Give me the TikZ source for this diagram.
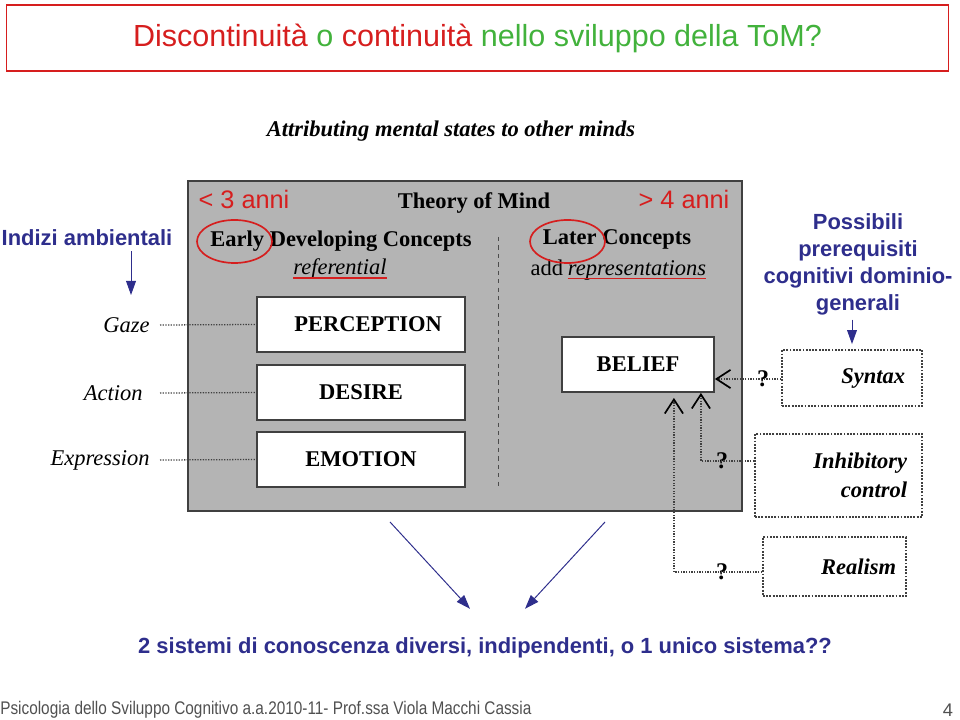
\documentclass[tikz,border=0pt]{standalone}
\usepackage{fontspec}
\setmainfont{Liberation Serif}
\setsansfont{Liberation Sans}
\usepackage{tikz}
\usetikzlibrary{arrows.meta,shapes,positioning}
\definecolor{tomred}{RGB}{214,30,30}
\definecolor{tomgreen}{RGB}{66,178,60}
\definecolor{tomblue}{RGB}{46,46,140}
\definecolor{tomgray}{RGB}{180,180,180}
\definecolor{tomframe}{RGB}{64,64,64}
\definecolor{footgray}{RGB}{80,80,80}
\tikzstyle{concept} = [rectangle, minimum width=5.2cm, minimum height=1.375cm, text centered, draw=tomframe, fill=white, line width=1.3pt, font=\fontsize{16}{18}\selectfont\bfseries]
\tikzstyle{cue} = [anchor=east, inner sep=0pt, inner xsep=0.25cm, font=\fontsize{16}{18}\selectfont\itshape]
\tikzstyle{prereq} = [rectangle, draw=tomframe, line width=1.3pt, densely dotted, align=right, font=\fontsize{16}{21}\selectfont\bfseries\itshape]
\tikzstyle{query} = [inner sep=0pt, font=\fontsize{17}{18}\selectfont\bfseries]
\tikzstyle{link} = [densely dotted, line width=0.9pt, color=tomframe]
\tikzstyle{barb} = [-{Straight Barb[length=10pt,width=13pt,line width=1.2pt,color=black]}]
\tikzstyle{bluetext} = [color=tomblue, align=center, font=\sffamily\bfseries\fontsize{15.6}{19.2}\selectfont]
\tikzstyle{bluearrow} = [color=tomblue, line width=0.7pt, -{Triangle[length=10pt,width=7pt]}]
\tikzstyle{age} = [color=tomred, font=\sffamily\fontsize{18}{20}\selectfont]
\tikzstyle{ring} = [ellipse, draw=tomred, line width=1.2pt, minimum width=1.875cm, minimum height=1.075cm]
\tikzstyle{redline} = [draw=tomred, line width=1.1pt]

\begin{document}
\begin{tikzpicture}[x=0.025cm, y=-0.025cm]
\useasboundingbox (0,0) rectangle (960,720);

% Title
\node (titlebox) [rectangle, draw=tomred, line width=0.8pt, minimum width=23.525cm, minimum height=1.65cm] at (477.5,38) {};
\node (title) at (477.5,38) [font=\sffamily\fontsize{21.7}{24}\selectfont] {\textcolor{tomred}{Discontinuità} \textcolor{tomgreen}{o} \textcolor{tomred}{continuità} \textcolor{tomgreen}{nello sviluppo della ToM?}};

\node (attrib) at (451,131) [font=\fontsize{16}{18}\selectfont\bfseries\itshape] {Attributing mental states to other minds};

% Theory of mind panel
\node (tom) [rectangle, draw=tomframe, fill=tomgray, line width=1.3pt, minimum width=13.85cm, minimum height=8.25cm] at (465,346) {};
\node (young) [age] at (244,199) {< 3 anni};
\node (old) [age] at (684,199) {> 4 anni};
\node (tomhead) at (474,203) [font=\fontsize{16}{18}\selectfont\bfseries] {Theory of Mind};
\node (early) at (341,241) [font=\fontsize{16}{18}\selectfont\bfseries] {Early Developing Concepts};
\node (refer) at (340,269) [inner sep=0pt, font=\fontsize{16}{18}\selectfont\itshape] {referential};
\node (later) at (617,239) [font=\fontsize{16}{18}\selectfont\bfseries] {Later Concepts};
\node (reprword) at (637,270) [inner sep=0pt, font=\fontsize{16}{18}\selectfont\itshape] {representations};
\node (add) [anchor=base east, inner sep=0pt, xshift=-3pt, font=\fontsize{16}{18}\selectfont] at (reprword.base west) {add};
\draw[redline] ([yshift=-2.5pt]refer.base west) -- ([yshift=-2.5pt]refer.base east);
\draw[redline] ([yshift=-2.5pt]reprword.base west) -- ([yshift=-2.5pt]reprword.base east);
\node (earlyring) [ring] at (234.5,241.5) {};
\node (laterring) [ring] at (567.5,241.5) {};
\draw[dashed, thin, color=black!70] (498,237) -- (498,487);

% Concept boxes
\node (perception) [concept] at (361,324.5) {\hspace{10pt}PERCEPTION};
\node (desire) [concept] at (361,392.5) {DESIRE};
\node (emotion) [concept] at (361,459.5) {EMOTION};
\node (belief) [concept, minimum width=3.8cm] at (638,364.5) {BELIEF};

% Cues
\node (indizi) [bluetext] at (87,238) {Indizi ambientali};
\node (gaze) [cue] at (160,325) {Gaze};
\node (action) [cue, inner xsep=0pt] at (143,393) {Action};
\node (expression) [cue] at (160,460) {Expression};
\draw[bluearrow] ([xshift=1.1cm]indizi.south) -- ++(0,44);
\draw[link] (gaze.east) -- (perception.west);
\draw[link] (action.east -| gaze.east) -- (desire.west);
\draw[link] (expression.east) -- (emotion.west);

% Prerequisites
\node (possibili) [bluetext] at (858,264) {Possibili\\prerequisiti\\cognitivi dominio-\\generali};
\node (syntax) [prereq, text width=2.65cm, inner xsep=0.425cm, minimum height=1.4cm] at (852,378) {Syntax};
\node (inhib) [prereq, text width=3.425cm, inner xsep=0.375cm, minimum height=2.075cm] at (838.5,475.5) {Inhibitory\\control};
\node (realism) [prereq, text width=3.075cm, inner xsep=0.25cm, minimum height=1.475cm] at (834.5,566.5) {Realism};
\draw[bluearrow] (possibili.south -| syntax.north) -- ([yshift=0.125cm]syntax.north);

% Links to belief
\node (q1) [query] at (763,379) {?};
\node (q2) [query] at (722,461) {?};
\node (q3) [query] at (722,572) {?};
\draw[link, barb] (syntax.west |- q1) -- (q1 -| belief.east);
\draw[link, barb] (inhib.west |- q2) -| ([xshift=-0.35cm]belief.south east);
\draw[link, barb] (realism.west |- q3) -| ([xshift=-1.025cm, yshift=-0.125cm]belief.south east);

% Question
\node (sistemi) [bluetext] at (485,648) {2 sistemi di conoscenza diversi, indipendenti, o 1 unico sistema??};
\draw[bluearrow] ([xshift=-1.875cm, yshift=-0.25cm]tom.south) -- ([xshift=-0.375cm, yshift=0.6cm]sistemi.north);
\draw[bluearrow] ([xshift=3.5cm, yshift=-0.25cm]tom.south) -- ([xshift=1cm, yshift=0.6cm]sistemi.north);

% Footer
\node (footer) [anchor=west, inner sep=0pt, color=footgray, font=\sffamily\fontsize{13}{14}\selectfont] at (0,710) {\scalebox{0.84}[1]{Psicologia dello Sviluppo Cognitivo a.a.2010-11- Prof.ssa Viola Macchi Cassia}};
\node (page) [color=footgray, font=\sffamily\fontsize{13}{14}\selectfont] at (948,710) {4};
\end{tikzpicture}
\end{document}
